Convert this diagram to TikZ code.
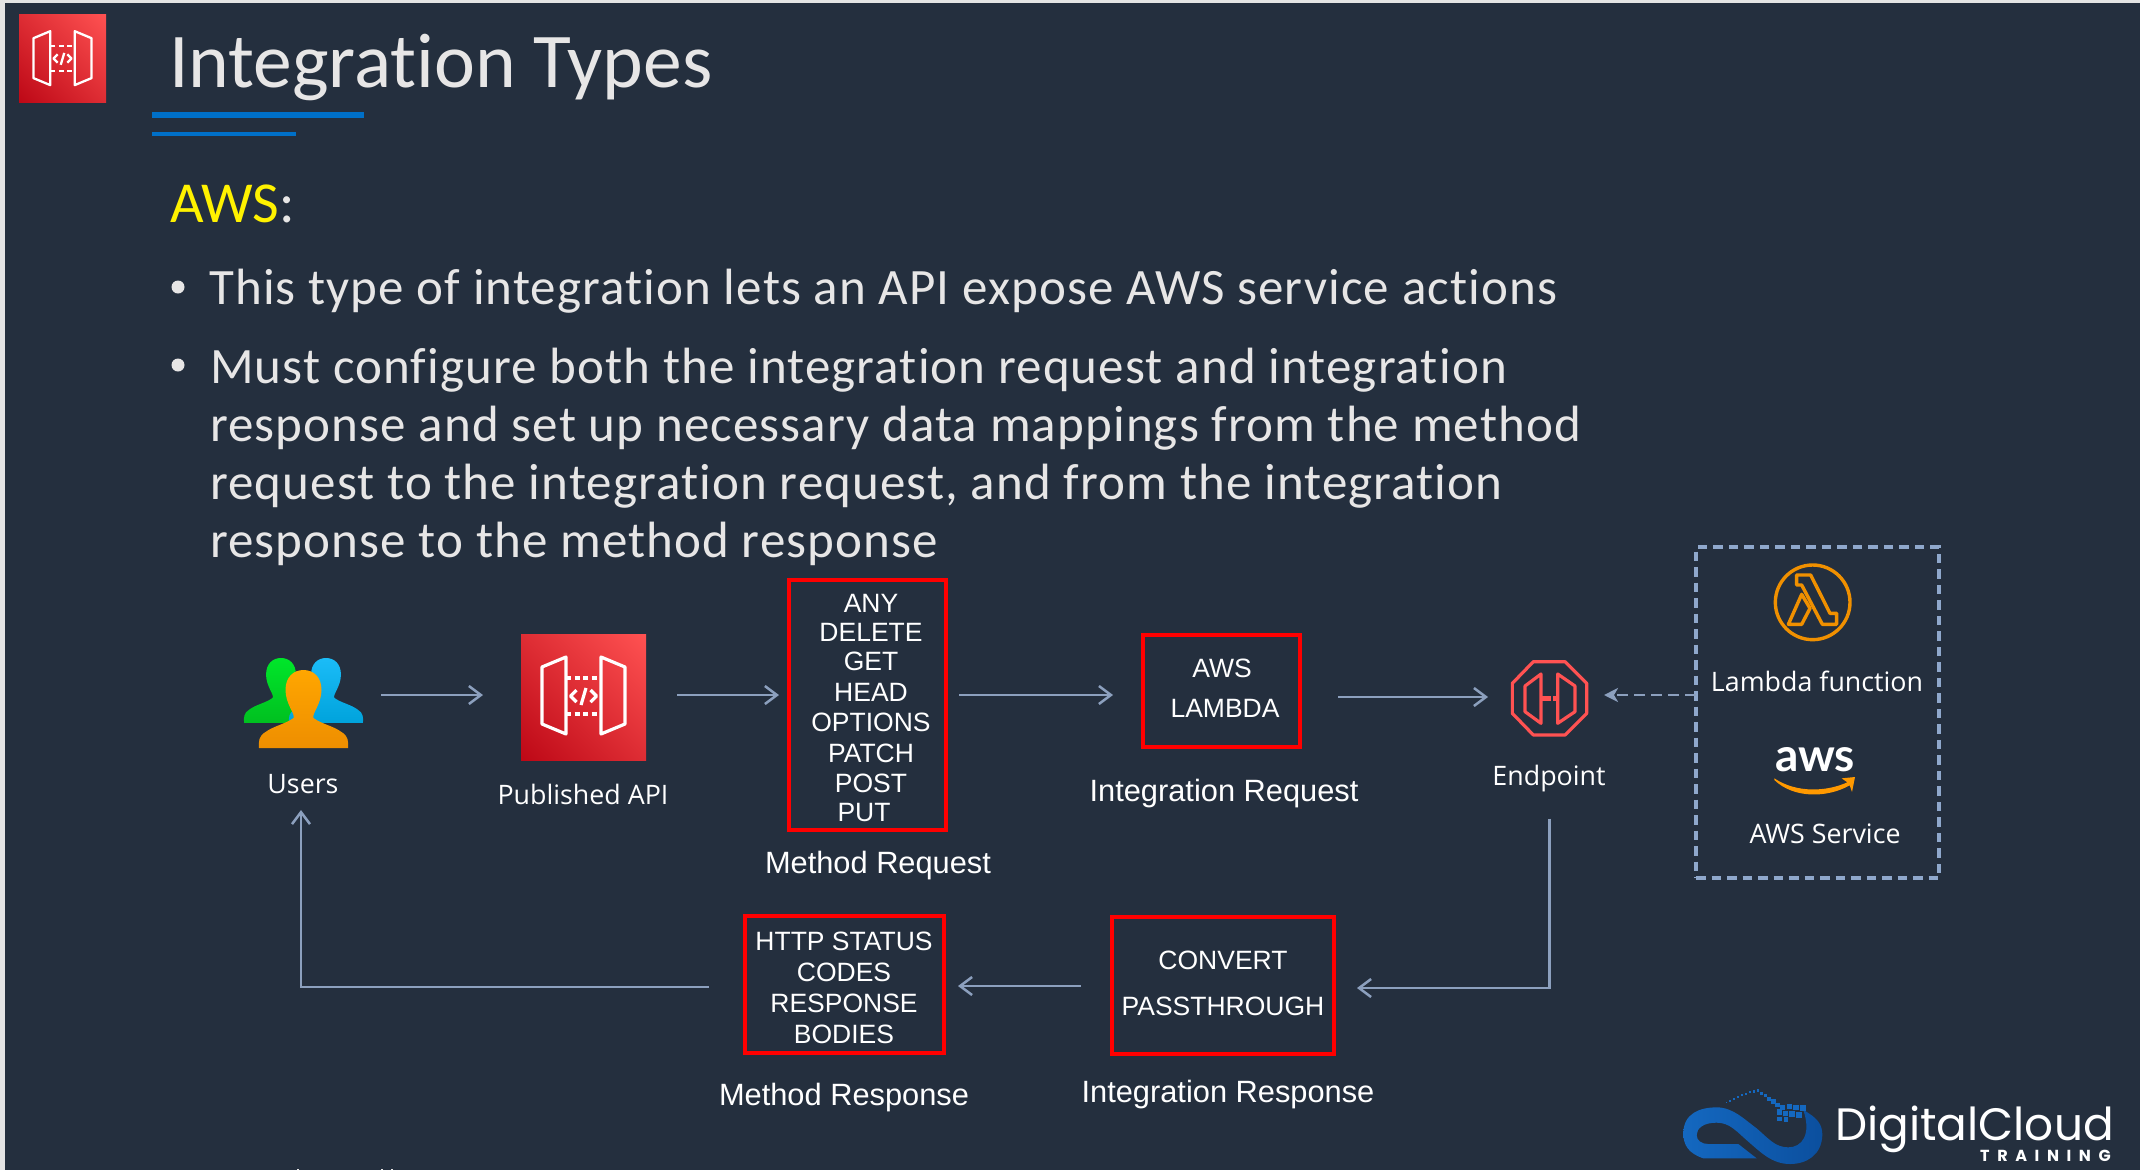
\documentclass[tikz,border=0pt]{standalone}
\usepackage{fontspec}
\setmainfont[Ligatures=NoCommon]{Carlito}
\newfontfamily\bodyf[LetterSpace=2.2,Ligatures=NoCommon]{Carlito}
\newfontfamily\arialf{Liberation Sans}
\newfontfamily\segoef{Open Sans}
\newfontfamily\logof{Poppins}
\newfontfamily\awsf{Lato}
\usetikzlibrary{arrows.meta,calc,shadings}
\definecolor{bgc}{HTML}{242F3E}
\definecolor{framec}{HTML}{E4E4E4}
\definecolor{lighttext}{HTML}{E7E6E6}
\definecolor{ruleblue}{HTML}{0070C8}
\definecolor{connc}{HTML}{8CA0BE}
\definecolor{groupc}{HTML}{8FA8CC}
\definecolor{boxred}{HTML}{FF0000}
\definecolor{apidark}{HTML}{BD0816}
\definecolor{apilight}{HTML}{FF5252}
\definecolor{apimid}{HTML}{DE2D34}
\definecolor{endred}{HTML}{FF5252}
\definecolor{lamorange}{HTML}{F09000}
\definecolor{smile}{HTML}{FF9900}
\definecolor{logoblue}{HTML}{1468C0}
\definecolor{logodark}{HTML}{0B4F9E}
\definecolor{greenA}{HTML}{00E62A}
\definecolor{greenB}{HTML}{00C020}
\definecolor{blueA}{HTML}{1BBCF7}
\definecolor{blueB}{HTML}{00A3DC}
\definecolor{orangeA}{HTML}{FFA600}
\definecolor{orangeB}{HTML}{EE8E00}
\tikzset{
  x=1pt,y=-1pt,
  titletext/.style={anchor=base west,inner sep=0,text=lighttext,font=\fontsize{77.5}{90}\selectfont},
  headtext/.style={anchor=base west,inner sep=0,text=lighttext,font=\fontsize{58}{64}\selectfont},
  bodytext/.style={anchor=base west,inner sep=0,text=lighttext,font=\bodyf\fontsize{51}{58}\selectfont},
  boxline/.style={anchor=base,inner sep=0,text=white,font=\arialf\fontsize{26.5}{30}\selectfont},
  arialcap/.style={anchor=base,inner sep=0,text=white,font=\arialf\fontsize{30.8}{34}\selectfont},
  segoecap/.style={anchor=base,inner sep=0,text=white,font=\segoef\fontsize{26.8}{30}\selectfont},
  redbox/.style={draw=boxred,line width=4pt,rectangle,inner sep=0,outer sep=0},
  iconbox/.style={rectangle,inner sep=0,outer sep=0},
  conn/.style={draw=connc,line width=2.5pt,-{Straight Barb[length=12pt,width=18pt]}},
  dashconn/.style={draw=connc,line width=2.5pt,dash pattern=on 11pt off 6pt,-{Stealth[length=14pt,width=14pt,inset=4pt]}},
  apiface/.style={shade,lower left=apidark,upper right=apilight,upper left=apimid,lower right=apimid},
}
% API glyph: #1 centre, #2 scale, #3 line width
\newcommand{\apiglyph}[3]{%
\begin{scope}[shift={#1},scale=#2,draw=white,line width=#3,line join=round]
  \draw (-17.5,-39) -- (-41.5,-29) -- (-41.5,28) -- (-17.5,38) -- cycle;
  \draw (17.5,-39) -- (41.5,-29) -- (41.5,28) -- (17.5,38) -- cycle;
  \draw[dash pattern=on 5pt off 3.5pt] (-17.5,-18) -- (17.5,-18);
  \draw[dash pattern=on 5pt off 3.5pt] (-17.5,18) -- (17.5,18);
  \draw (-7,-6) -- (-13,0) -- (-7,6);
  \draw (7,-6) -- (13,0) -- (7,6);
  \draw (2.5,-8) -- (-2.5,9);
\end{scope}}
% one person: #1 centre x/top, #2 xscale, #3 yscale, #4 top colour, #5 bottom colour
\newcommand{\personshape}[5]{%
\shade[shift={#1},xscale=#2,yscale=#3,top color=#4,bottom color=#5,rounded corners=0pt]
  (-44.5,78) .. controls (-45,72) and (-45,66) .. (-38,62)
  .. controls (-30,56) and (-18,54) .. (-10,48)
  .. controls (-8,44) and (-18,34) .. (-18,20)
  .. controls (-18,7) and (-10,0) .. (0,0)
  .. controls (10,0) and (18,7) .. (18,20)
  .. controls (18,34) and (8,44) .. (10,48)
  .. controls (18,54) and (30,56) .. (38,62)
  .. controls (45,66) and (45,72) .. (44.5,78) -- cycle;}
\begin{document}
\begin{tikzpicture}
\useasboundingbox (0,0) rectangle (2140,1170);
\fill[framec] (0,0) rectangle (2140,1170);
\fill[bgc] (5,3) rectangle (2140,1170);
% header
\node[iconbox,apiface,minimum width=87pt,minimum height=88pt] (hdricon) at (62.5,58) {};
\apiglyph{(62.5,58.5)}{0.70}{2.3pt}
\node[titletext] (title) at (169,87) {Integration Types};
\fill[ruleblue] (152,112) rectangle (364,118);
\fill[ruleblue] (152,132) rectangle (296,136);
\node[headtext] (awshead) at (170,222) {\textcolor{yellow}{AWS}:};
% bullets
\fill[lighttext] (178,287) circle (6.5);
\fill[lighttext] (178,365) circle (6.5);
\node[bodytext] (b1) at (209,304) {This type of integration lets an API expose AWS service actions};
\node[bodytext] (b2) at (210,383) {Must configure both the integration request and integration};
\node[bodytext] (b3) at (210,441) {response and set up necessary data mappings from the method};
\node[bodytext] (b4) at (210,499) {request to the integration request, and from the integration};
\node[bodytext] (b5) at (210,557) {response to the method response};
% Users
\node[iconbox,minimum width=119pt,minimum height=106pt] (users) at (303.5,695) {};
\personshape{(281,658)}{0.83}{0.83}{greenA}{greenB}
\personshape{(326,658)}{0.83}{0.83}{blueA}{blueB}
\personshape{(303.5,670)}{1}{1}{orangeA}{orangeB}
\node[segoecap] (userslabel) at (303,793) {Users};
% Published API
\node[iconbox,apiface,minimum width=125pt,minimum height=126pt] (api) at (583.5,697) {};
\apiglyph{(583.5,696)}{1}{3.2pt}
\node[segoecap] (apilabel) at (583,804) {Published API};
% Method request
\node[redbox,minimum width=157pt,minimum height=250pt] (mreq) at (867.5,705) {};
\foreach \t/\x/\y in {ANY/871/612.5,DELETE/871/641.5,GET/871/670.5,HEAD/871/701.5,OPTIONS/871/731.5,PATCH/871/762.5,POST/871/792.5,PUT/864/821.5}
  \node[boxline] at (\x,\y) {\t};
\node[arialcap] (mreqlabel) at (878,873) {Method Request};
% Integration request
\node[redbox,minimum width=157pt,minimum height=112pt] (ireq) at (1221.5,691) {};
\node[boxline] (ireqa) at (1222,677) {AWS};
\node[boxline] (ireqb) at (1225,717) {LAMBDA};
\node[arialcap] (ireqlabel) at (1224,801) {Integration Request};
% Endpoint
\node[iconbox,minimum width=75pt,minimum height=75pt] (endpoint) at (1549.5,698) {};
\begin{scope}[shift={(1440,530)},scale=1/3,draw=endred,line width=3.2pt,line join=round]
  \draw (280,395) -- (375,395) -- (440,460) -- (440,550) -- (375,615) -- (280,615) -- (217,550) -- (217,460) -- cycle;
  \draw (303,432) -- (255,468) -- (255,545) -- (303,580) -- cycle;
  \draw (353,432) -- (405,468) -- (405,545) -- (353,580) -- cycle;
  \draw[line width=5pt,dash pattern=on 9pt off 1.5pt] (306,505) -- (350,505);
\end{scope}
\node[segoecap] (endlabel) at (1549,785) {Endpoint};
% Targets group
\node[iconbox,draw=groupc,line width=3.2pt,dash pattern=on 9.5pt off 6pt,minimum width=243pt,minimum height=331pt] (targets) at (1817.5,712.5) {};
\begin{scope}[shift={(1440,530)},scale=1/3,draw=lamorange,line width=3.4pt,line join=round]
  \draw (1118,217) circle (112);
  \draw (1070,135) -- (1112,135) -- (1170,250) -- (1190,250) -- (1190,283) -- (1147,283) -- (1085,165) -- (1070,165) -- cycle;
  \draw (1085,193) -- (1045,283) -- (1085,283) -- (1110,235) -- cycle;
\end{scope}
\node[segoecap] (lamlabel) at (1817,691) {Lambda function};
\node[anchor=base,inner sep=0,text=white,font=\awsf\bfseries\fontsize{46}{50}\selectfont] (awslogo) at (1815,771) {aws};
\begin{scope}[shift={(1440,530)},scale=1/3]
  \fill[smile] (1003,745) .. controls (1070,790) and (1160,785) .. (1222,757) -- (1205,745) -- (1245,741) -- (1236,786) -- (1229,766)
     .. controls (1160,805) and (1060,805) .. (1003,750) -- cycle;
\end{scope}
\node[segoecap] (svclabel) at (1825,843) {AWS Service};
% Method response
\node[redbox,minimum width=199pt,minimum height=137pt] (mresp) at (844.5,984.5) {};
\foreach \t/\y in {HTTP STATUS/950,CODES/981,RESPONSE/1012,BODIES/1043}
  \node[boxline] (mresp\y) at (844,\y) {\t};
\node[arialcap] (mresplabel) at (844,1105) {Method Response};
% Integration response
\node[redbox,minimum width=222pt,minimum height=137pt] (iresp) at (1223,985.5) {};
\node[boxline] (irespa) at (1223,969) {CONVERT};
\node[boxline] (irespb) at (1223,1015) {PASSTHROUGH};
\node[arialcap] (iresplabel) at (1228,1102) {Integration Response};
% connector rows
\coordinate (rowa) at (0,695);
\coordinate (rowb) at (0,697);
\coordinate (rowc) at (0,988);
\coordinate (rowd) at (0,986);
\coordinate (rowe) at (0,987);
\draw[conn,shorten <=18pt,shorten >=38pt] (users.east |- rowa) -- (api.west |- rowa);
\draw[conn,shorten <=31pt,shorten >=10pt] (api.east |- rowa) -- (mreq.west |- rowa);
\draw[conn,shorten <=13pt,shorten >=30pt] (mreq.east |- rowa) -- (ireq.west |- rowa);
\draw[conn,shorten <=38pt,shorten >=24pt] (ireq.east |- rowb) -- (endpoint.west |- rowb);
\draw[dashconn,shorten >=17pt] (targets.west |- rowa) -- (endpoint.east |- rowa);
\draw[conn,shorten <=83pt,shorten >=23pt] (endpoint.south) |- (iresp.east |- rowc);
\draw[conn,shorten <=31pt,shorten >=14pt] (iresp.west |- rowd) -- (mresp.east |- rowd);
\draw[conn,shorten <=36pt,shorten >=62pt] (mresp.west |- rowe) -| ([xshift=-2.5pt]users.south);
% cut-off specks at the bottom edge
\fill[lighttext] (296.5,1168.5) rectangle (298.5,1170);
\fill[lighttext] (381,1168.5) rectangle (383,1170);
\fill[lighttext] (391,1168.5) rectangle (393,1170);
% DigitalCloud logo
\begin{scope}[shift={(1660,1070)},scale=1/3]
  \shade[left color=logoblue,right color=logodark]
    (290,265) -- (130,265) .. controls (85,250) and (70,225) .. (70,190)
    .. controls (70,130) and (120,112) .. (170,112)
    .. controls (220,112) and (255,150) .. (290,175)
    .. controls (325,205) and (345,232) .. (385,232)
    .. controls (425,232) and (455,195) .. (430,120)
    .. controls (475,145) and (487,165) .. (487,195)
    .. controls (485,255) and (440,282) .. (390,282)
    .. controls (335,282) and (300,245) .. (265,215)
    .. controls (230,185) and (210,158) .. (170,158)
    .. controls (130,158) and (110,175) .. (110,195)
    .. controls (110,212) and (125,222) .. (145,222)
    -- (235,222) -- cycle;
  \foreach \px/\py/\ps in {198/96/4,208/90/5,218/84/6,230/78/6,242/72/7,254/68/7,266/62/8,278/60/8,290/58/8,300/66/9,312/72/10,322/82/12,334/88/13,346/98/14,360/104/15,380/102/16,400/104/17,420/104/18,350/118/16,368/122/17,388/124/18,408/126/17,352/140/14,372/142/13}
    \fill[logoblue] (\px,\py) rectangle +(\ps,\ps);
\end{scope}
\node[anchor=base west,inner sep=0,text=white,font=\logof\fontsize{45.4}{50}\selectfont] (dclogo) at (1835,1140) {DigitalCloud};
\node[anchor=base west,inner sep=0,text=white,font=\logof\bfseries\fontsize{16}{18}\selectfont] (dctrain) at (1980,1161) {T\hspace{7.6pt}R\hspace{7.6pt}A\hspace{7.6pt}I\hspace{7.6pt}N\hspace{7.6pt}I\hspace{7.6pt}N\hspace{7.6pt}G};
\end{tikzpicture}
\end{document}
